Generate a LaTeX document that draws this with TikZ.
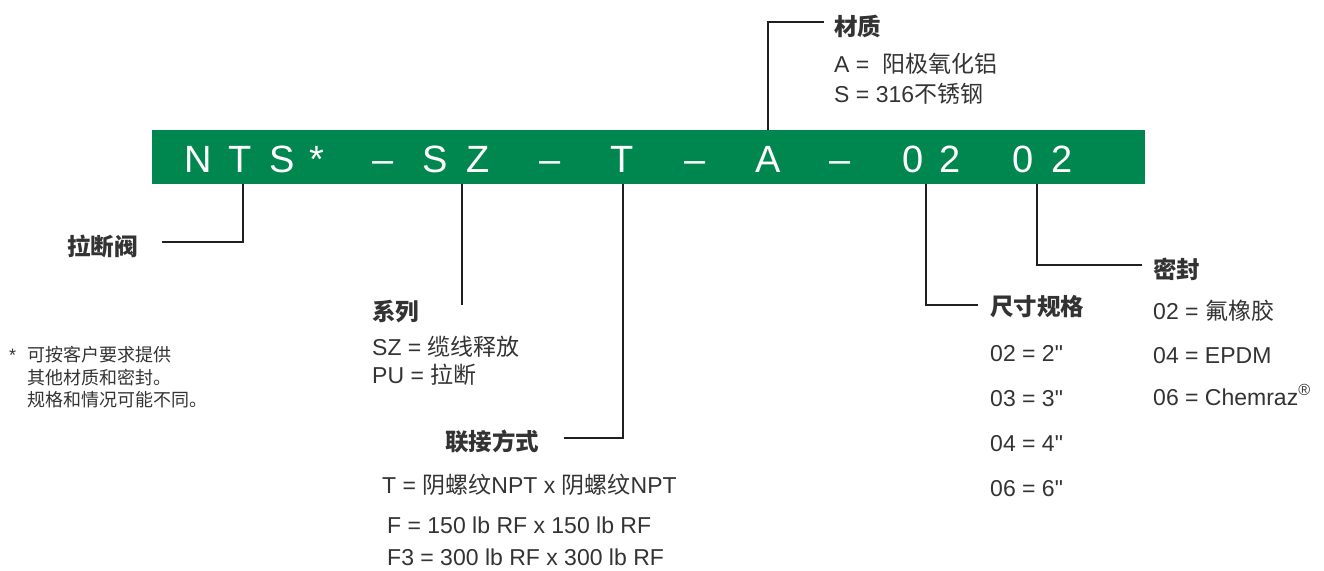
\documentclass[tikz,border=0pt]{standalone}
\usepackage{fontspec}
\setmainfont{Liberation Sans}
\newfontfamily\cjk{Noto Sans CJK SC}
\newfontfamily\rawsans{Liberation Sans}
\newcommand\zh[1]{{\cjk #1}}
\newcommand\inch{{\rawsans\symbol{"22}}}
\definecolor{barGreen}{HTML}{00874F}
\definecolor{txt}{HTML}{333333}
\definecolor{ln}{HTML}{231F20}
\tikzset{
  codebar/.style={fill=barGreen, draw=none, minimum width=993pt, minimum height=54pt, inner sep=0pt},
  code/.style={font=\fontsize{38}{38}\selectfont, text=white, anchor=base, inner sep=0pt},
  head/.style={font=\fontsize{23.5}{26}\selectfont\cjk\bfseries, text=txt, anchor=base west, inner sep=0pt},
  item/.style={font=\fontsize{23}{26}\selectfont, text=txt, anchor=base west, inner sep=0pt},
  note/.style={font=\fontsize{18}{21}\selectfont\cjk, text=txt, anchor=base west, inner sep=0pt},
  conn/.style={draw=ln, line width=2pt}
}
\begin{document}
\begin{tikzpicture}[x=1pt,y=-1pt]
\useasboundingbox (0,0) rectangle (1324,570);
% code bar
\node[codebar] (bar) at (648.5,157) {};
\node[code] (c1) at (198,172) {N};
\node[code] (c2) at (240,172) {T};
\node[code] (c3) at (282,172) {S};
\node[code] (c4) at (317,172) {*};
\node[code] (c5) at (383,172) {–};
\node[code] (c6) at (435,172) {S};
\node[code] (c7) at (478,172) {Z};
\node[code] (c8) at (550,172) {–};
\node[code] (c9) at (622,172) {T};
\node[code] (c10) at (695,172) {–};
\node[code] (c11) at (768,172) {A};
\node[code] (c12) at (840,172) {–};
\node[code] (c13) at (913,172) {0};
\node[code] (c14) at (950,172) {2};
\node[code] (c15) at (1023,172) {0};
\node[code] (c16) at (1062,172) {2};
% tap points on the bar
\coordinate (pNTS) at (243,184);
\coordinate (pSZ) at (462,184);
\coordinate (eSZ) at (462,305);
\coordinate (pT) at (623,184);
\coordinate (pA) at (768,130);
\coordinate (pSize) at (926,184);
\coordinate (pSeal) at (1037,184);
% material
\node[head] (lMat) at (834,35) {材质};
\node[item] (mA) at (834,72) {A =\ \ \zh{阳极氧化铝}};
\node[item] (mS) at (834,102) {S = 316\zh{不锈钢}};
% valve
\node[head] (lValve) at (67,255) {拉断阀};
% series
\node[head] (lSeries) at (372,320) {系列};
\node[item] (sSZ) at (372,355) {SZ = \zh{缆线释放}};
\node[item] (sPU) at (372,383) {PU = \zh{拉断}};
% connection
\node[head] (lConn) at (445,450) {联接方式};
\node[item] (tT) at (382,493) {T = \zh{阴螺纹}NPT x \zh{阴螺纹}NPT};
\node[item] (tF) at (387,533) {F = 150 lb RF x 150 lb RF};
\node[item] (tF3) at (387,565) {F3 = 300 lb RF x 300 lb RF};
% size
\node[head] (lSize) at (990,315) {尺寸规格};
\node[item] (z2) at (990,361) {02 = 2\inch};
\node[item] (z3) at (990,406) {03 = 3\inch};
\node[item] (z4) at (990,451) {04 = 4\inch};
\node[item] (z6) at (990,496) {06 = 6\inch};
% seal
\node[head] (lSeal) at (1153,278) {密封};
\node[item] (e2) at (1153,319) {02 = \zh{氟橡胶}};
\node[item] (e4) at (1153,363) {04 = EPDM};
\node[item] (e6) at (1153,405) {06 = Chemraz\textsuperscript{\textregistered}};
% footnote
\node[note] (nStar) at (9,361) {\rmfamily *};
\node[note] (n1) at (27,361) {可按客户要求提供};
\node[note] (n2) at (27,384) {其他材质和密封。};
\node[note] (n3) at (27,406) {规格和情况可能不同。};
% connectors
\draw[conn] (pNTS) |- ([xshift=24pt,yshift=4pt]lValve.east);
\draw[conn] (pSZ) -- (eSZ);
\draw[conn] (pT) |- ([xshift=25pt,yshift=3pt]lConn.east);
\draw[conn] (pA) |- ([xshift=-10pt,yshift=4pt]lMat.west);
\draw[conn] (pSize) |- ([xshift=-12pt,yshift=1pt]lSize.west);
\draw[conn] (pSeal) |- ([xshift=-11pt,yshift=4pt]lSeal.west);
\end{tikzpicture}
\end{document}
